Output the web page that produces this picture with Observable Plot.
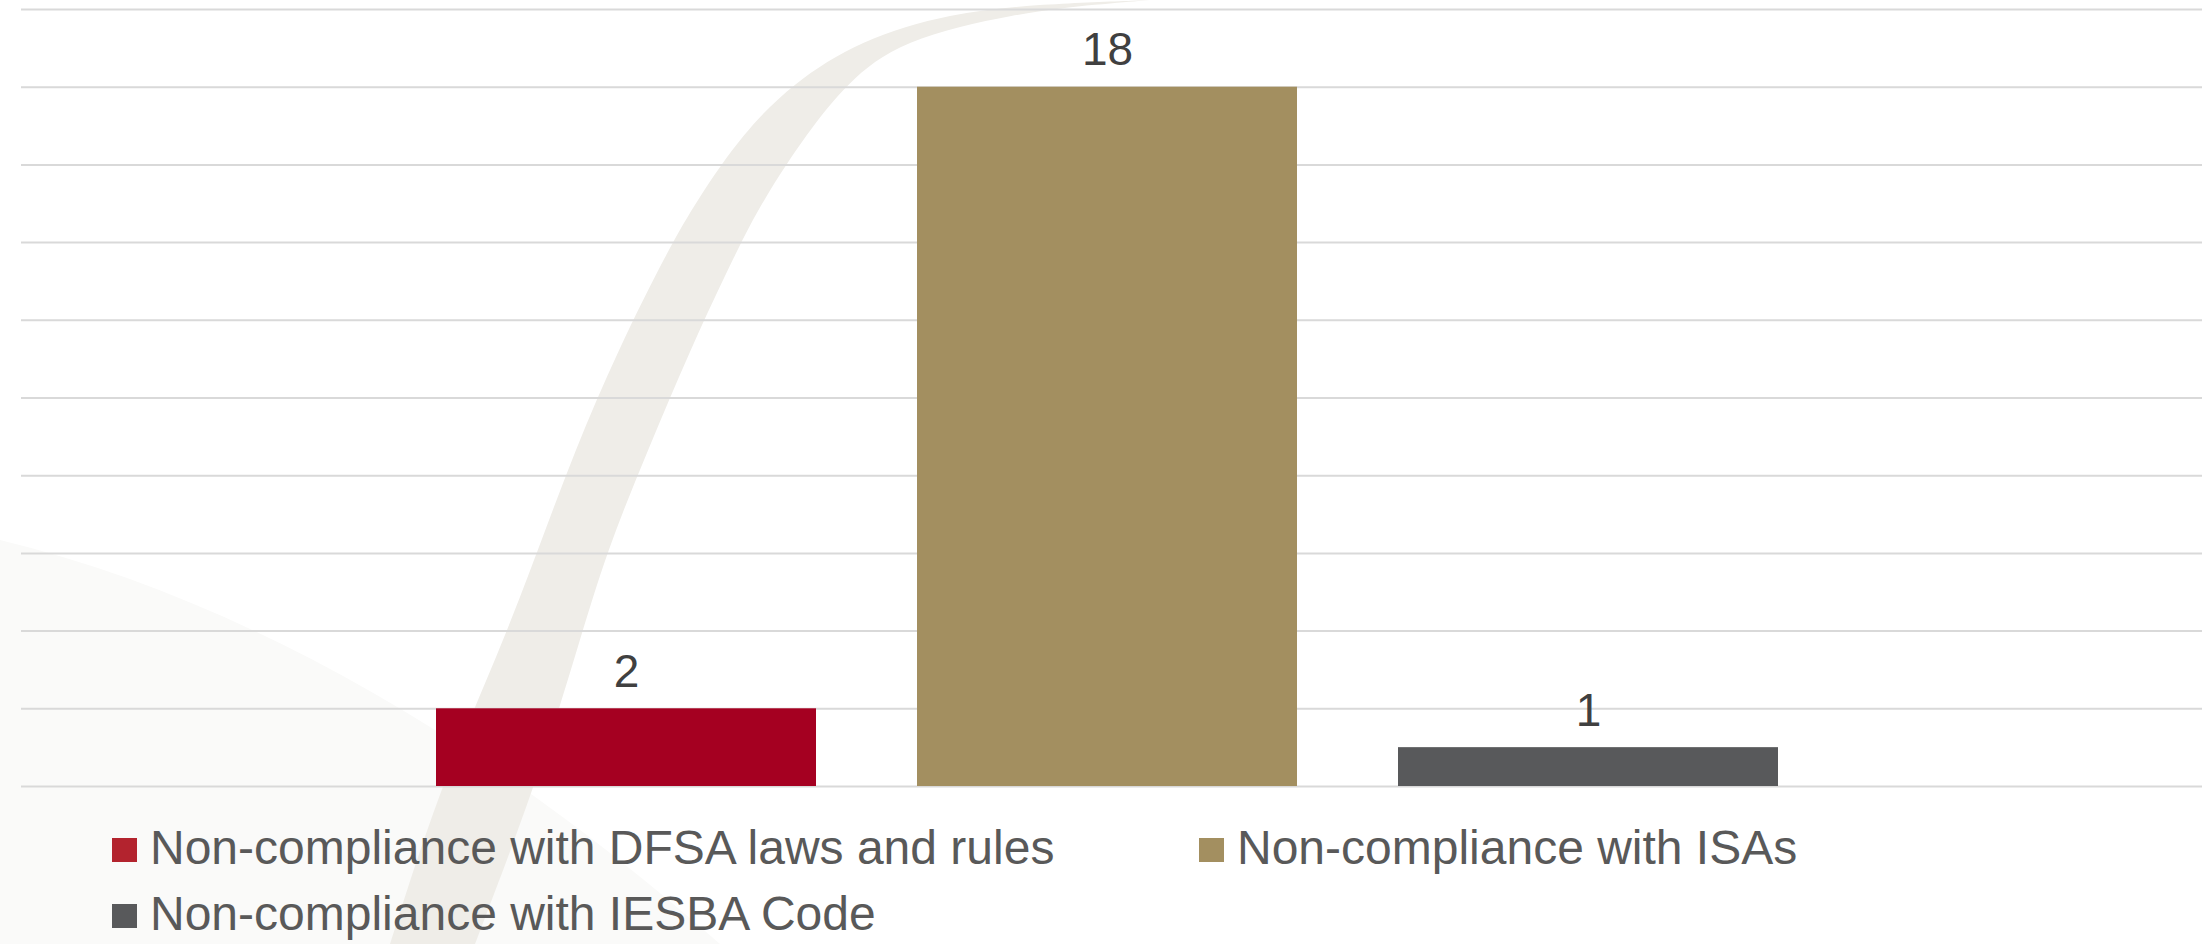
<!DOCTYPE html>
<html><head><meta charset="utf-8">
<script src="https://cdn.jsdelivr.net/npm/d3@7"></script>
<script src="https://cdn.jsdelivr.net/npm/@observablehq/plot@0.6"></script>
<style>
body{margin:0;background:#fff;font-family:"Liberation Sans",Arial,sans-serif;}
#wrap{position:relative;width:2202px;height:944px;overflow:hidden;}
#bg{position:absolute;left:0;top:0;}
#chart{position:absolute;left:0;top:0;}
#legend{position:absolute;left:0;top:800px;width:2202px;height:144px;}
.item{position:absolute;font-size:48px;line-height:48px;color:#595959;white-space:nowrap;}
.sw{position:absolute;width:25px;height:24px;}
</style></head><body>
<div id="wrap">
<svg id="bg" width="2202" height="944"></svg>
<div id="chart"></div>
<div id="legend"></div>
</div>
<script>
const categories = ["Non-compliance with DFSA laws and rules", "Non-compliance with ISAs", "Non-compliance with IESBA Code"];
const values = [2, 18, 1];
const barColors = ["#A50021", "#A38F60", "#58595B"];
const swatchColors = ["#B3232E", "#A38F60", "#58595B"];
const yTicks = [0, 2, 4, 6, 8, 10, 12, 14, 16, 18, 20];

// decorative background swoosh (not data)
(function () {
  const bg = d3.select("#bg");
  bg.append("path")
    .attr("d", "M0,540 C250,600 500,750 720,944 L0,944 Z")
    .attr("fill", "#fafaf9");
  const left = [[390, 944], [440, 787], [500, 650], [538, 550], [575, 450], [618, 350], [668, 250], [697, 200], [743, 133], [793, 83], [860, 40], [950, 13], [1040, 4], [1150, 0]];
  const right = [[1150, 0], [1100, 4], [1017, 13], [900, 40], [847, 83], [807, 133], [763, 200], [737, 250], [690, 350], [648, 450], [607, 550], [577, 650], [535, 787], [475, 944]];
  const line = d3.line().curve(d3.curveBasis);
  bg.append("path")
    .attr("d", line(left) + "L" + line(right).slice(1) + "Z")
    .attr("fill", "#efede8");
})();

const data = categories.map((c, i) => ({category: c, value: values[i]}));

const chart = Plot.plot({
  width: 2202, height: 800,
  marginTop: 9, marginBottom: 14, marginLeft: 21, marginRight: 0,
  style: {background: "transparent", fontFamily: "Liberation Sans, Arial, sans-serif"},
  x: {domain: categories, paddingInner: 0.21, paddingOuter: 0.87, align: 0.495, axis: null},
  y: {domain: [0, 20], axis: null},
  color: {domain: categories, range: barColors},
  marks: [
    Plot.ruleY(yTicks, {stroke: "#d9d9d9", strokeWidth: 2}),
    Plot.barY(data, {x: "category", y: "value", fill: "category"}),
    Plot.text(data, {x: "category", y: "value", text: d => String(d.value), lineAnchor: "bottom", dy: -22, fontSize: 46, fill: "#404040"})
  ]
});
document.getElementById("chart").appendChild(chart);

// legend (layout positions)
const legendPos = [[112, 24], [1199, 24], [112, 90]];
const legend = document.getElementById("legend");
categories.forEach((c, i) => {
  const [lx, ty] = legendPos[i];
  const sw = document.createElement("div");
  sw.className = "sw";
  sw.style.left = lx + "px";
  sw.style.top = (ty + 14) + "px";
  sw.style.background = swatchColors[i];
  legend.appendChild(sw);
  const t = document.createElement("div");
  t.className = "item";
  t.style.left = (lx + 38) + "px";
  t.style.top = ty + "px";
  t.textContent = c;
  legend.appendChild(t);
});
</script>
</body></html>
